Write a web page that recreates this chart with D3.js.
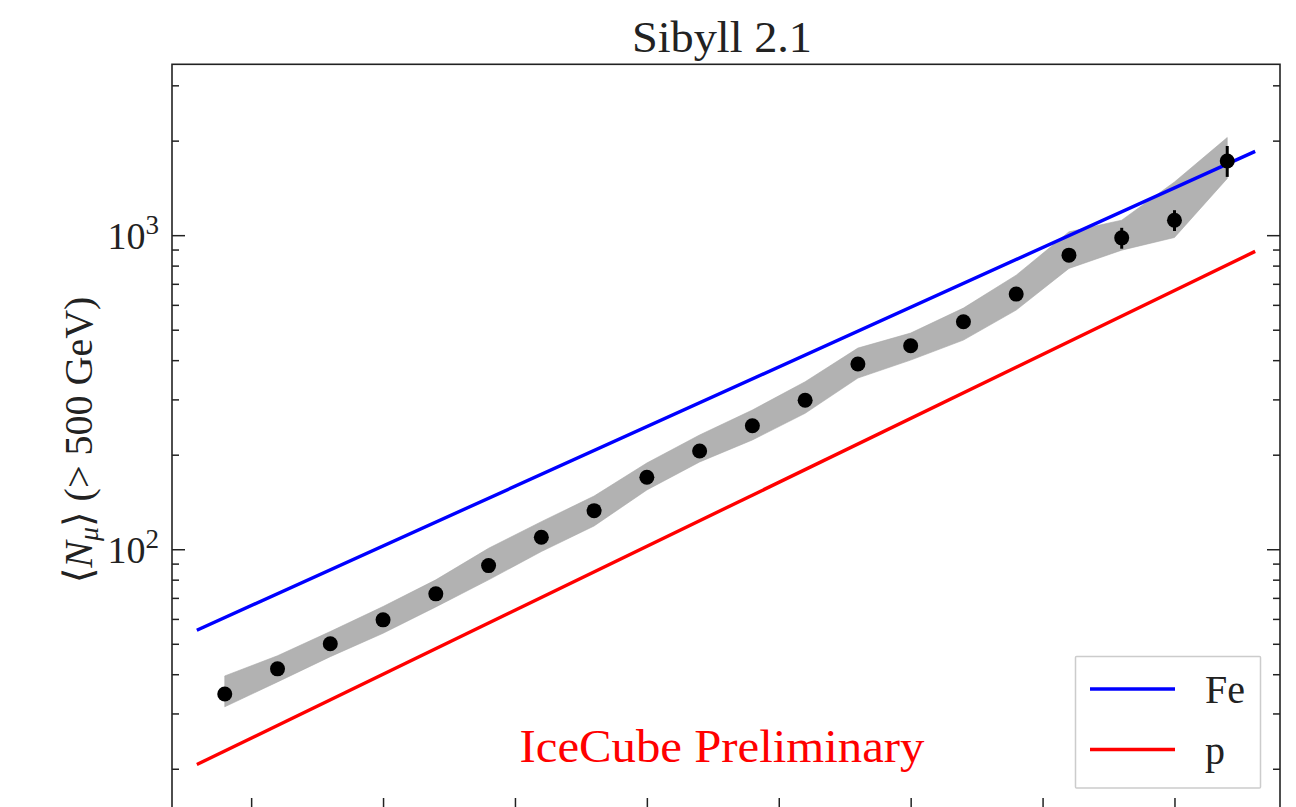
<!DOCTYPE html>
<html>
<head>
<meta charset="utf-8">
<script src="https://cdn.jsdelivr.net/npm/d3@7"></script>
<style>
  html, body { margin: 0; padding: 0; background: #fff; }
  svg { display: block; }
  text { font-family: "Liberation Serif", "DejaVu Serif", serif; fill: #222; }
</style>
</head>
<body>
<svg id="chart" width="1296" height="807"></svg>
<script>
// Mean muon multiplicity (> 500 GeV) per reconstructed-energy bin, Sibyll 2.1
const energyBins = [5.95, 6.05, 6.15, 6.25, 6.35, 6.45, 6.55, 6.65, 6.75, 6.85,
                    6.95, 7.05, 7.15, 7.25, 7.35, 7.45, 7.55, 7.65, 7.75, 7.85];
const muonMean = [34.6, 41.6, 50.0, 59.6, 72.1, 88.7, 109.2, 132.7, 169.5, 205.5,
                  247.4, 298.0, 388.7, 444.5, 529.8, 649.2, 863.6, 980.4, 1116, 1723];
const muonErrLow = [1.5, 1.5, 1.8, 2.0, 2.3, 2.7, 3.2, 3.8, 4.7, 5.6,
                    7, 9, 12, 15, 19, 25, 35, 75, 85, 190];
const muonErrHigh = [1.5, 1.5, 1.8, 2.0, 2.3, 2.7, 3.2, 3.8, 4.7, 5.6,
                     7, 9, 12, 15, 19, 25, 35, 75, 85, 200];
// systematic uncertainty band
const bandLow = [31.5, 37.8, 45.5, 54.0, 65.5, 79.9, 98.3, 118.6, 154.4, 189.6,
                 222.8, 270.9, 350.8, 400.2, 463.4, 577.4, 783.6, 896, 983, 1515];
const bandHigh = [39.5, 45.8, 54.7, 65.7, 79.9, 100.7, 122.4, 147.7, 188.2, 231.1,
                  277.5, 341.5, 437.0, 487.9, 585.9, 745.8, 1024.5, 1116, 1477, 2046];
// pure-composition expectations
const modelEnergy = [5.9, 7.9];
const ironMu = [55.5, 1839];
const protonMu = [20.75, 883];

const xTicks = [6.0, 6.25, 6.5, 6.75, 7.0, 7.25, 7.5, 7.75];
const yMajorTicks = [100, 1000];
const yMajorLabels = [["10", "2"], ["10", "3"]];
const titleText = "Sibyll 2.1";
const legendNames = ["Fe", "p"];
const watermark = "IceCube Preliminary";

const svg = d3.select("#chart");
const mLeft = 172, mRight = 1280, mTop = 64.3, mBottom = 808;

const x = d3.scaleLinear().domain([5.85, 7.95]).range([mLeft, mRight]);
const y = d3.scaleLog().domain([15, 3500]).range([mBottom, mTop]);

const plot = svg.append("g");

// uncertainty band
const band = d3.area()
  .x((d, i) => x(energyBins[i]))
  .y0((d, i) => y(bandLow[i]))
  .y1((d, i) => y(bandHigh[i]));
plot.append("path")
  .datum(energyBins)
  .attr("d", band)
  .attr("fill", "#b2b2b2")
  .attr("stroke", "#a8a8a8")
  .attr("stroke-width", 0.6);

// model lines
const line = d3.line().x(d => x(d[0])).y(d => y(d[1]));
const models = [
  { name: "Fe", vals: ironMu, color: "#0000ff" },
  { name: "p", vals: protonMu, color: "#ff0000" }
];
plot.selectAll("path.model")
  .data(models)
  .join("path")
  .attr("class", "model")
  .attr("d", m => line(modelEnergy.map((e, i) => [e, m.vals[i]])))
  .attr("fill", "none")
  .attr("stroke", m => m.color)
  .attr("stroke-width", 3.4)
  .attr("stroke-linecap", "square");

// error bars and markers
const pts = energyBins.map((e, i) => ({ e, v: muonMean[i], lo: muonMean[i] - muonErrLow[i], hi: muonMean[i] + muonErrHigh[i] }));
plot.selectAll("line.err")
  .data(pts)
  .join("line")
  .attr("class", "err")
  .attr("x1", d => x(d.e)).attr("x2", d => x(d.e))
  .attr("y1", d => y(d.lo)).attr("y2", d => y(d.hi))
  .attr("stroke", "#000").attr("stroke-width", 3);
plot.selectAll("circle.pt")
  .data(pts)
  .join("circle")
  .attr("class", "pt")
  .attr("cx", d => x(d.e)).attr("cy", d => y(d.v))
  .attr("r", 7.5)
  .attr("fill", "#000");

// axes: ticks point into the frame
const minorY = y.ticks().filter(v => !yMajorTicks.includes(v));
const axisColor = "#222";
function styleAxis(g) {
  g.select(".domain").remove();
  g.selectAll(".tick line").attr("stroke", axisColor).attr("stroke-width", 1.5);
  g.selectAll(".tick text").remove();
}
svg.append("g").attr("transform", `translate(${mLeft},0)`)
  .call(d3.axisLeft(y).tickValues(yMajorTicks).tickSize(-13)).call(styleAxis);
svg.append("g").attr("transform", `translate(${mLeft},0)`)
  .call(d3.axisLeft(y).tickValues(minorY).tickSize(-7)).call(styleAxis);
svg.append("g").attr("transform", `translate(${mRight},0)`)
  .call(d3.axisRight(y).tickValues(yMajorTicks).tickSize(-13)).call(styleAxis);
svg.append("g").attr("transform", `translate(${mRight},0)`)
  .call(d3.axisRight(y).tickValues(minorY).tickSize(-7)).call(styleAxis);
svg.append("g").attr("transform", `translate(0,${mBottom})`)
  .call(d3.axisBottom(x).tickValues(xTicks).tickSize(-10)).call(styleAxis);

// frame
svg.append("rect")
  .attr("x", mLeft).attr("y", mTop)
  .attr("width", mRight - mLeft).attr("height", mBottom - mTop)
  .attr("fill", "none").attr("stroke", axisColor).attr("stroke-width", 1.6);

// y tick labels 10^n
yMajorTicks.forEach((v, i) => {
  const t = svg.append("text")
    .attr("x", 159).attr("y", y(v) + 14)
    .attr("text-anchor", "end")
    .style("font-size", "38px");
  t.append("tspan").text(yMajorLabels[i][0]);
  t.append("tspan").attr("dy", -15).style("font-size", "27px").text(yMajorLabels[i][1]);
});

// title
svg.append("text")
  .attr("x", 722).attr("y", 52)
  .attr("text-anchor", "middle")
  .attr("textLength", 180)
  .attr("lengthAdjust", "spacingAndGlyphs")
  .style("font-size", "44px")
  .text(titleText);

// y axis label
const yl = svg.append("text")
  .attr("transform", `translate(92,440) rotate(-90)`)
  .attr("text-anchor", "middle")
  .style("font-size", "40px");
yl.append("tspan").text("\u27E8");
yl.append("tspan").style("font-style", "italic").text("N");
yl.append("tspan").attr("dy", 6).style("font-size", "28px").style("font-style", "italic").text("\u03BC");
yl.append("tspan").attr("dy", -6).text("\u27E9 (> 500 GeV)");

// watermark
svg.append("text")
  .attr("x", 722).attr("y", 762)
  .attr("text-anchor", "middle")
  .attr("textLength", 405)
  .attr("lengthAdjust", "spacingAndGlyphs")
  .style("font-size", "46px")
  .style("fill", "#ff0000")
  .text(watermark);

// legend
const lg = svg.append("g");
lg.append("rect")
  .attr("x", 1075.5).attr("y", 656.5).attr("width", 185).attr("height", 131.5)
  .attr("rx", 1)
  .attr("fill", "#fff").attr("stroke", "#cccccc").attr("stroke-width", 1.5);
models.forEach((m, i) => {
  const ly = 689 + i * 60.5;
  lg.append("line")
    .attr("x1", 1090).attr("x2", 1175).attr("y1", ly).attr("y2", ly)
    .attr("stroke", m.color).attr("stroke-width", 3.4);
  lg.append("text")
    .attr("x", 1205).attr("y", ly + 14)
    .style("font-size", "40px")
    .text(legendNames[i]);
});
</script>
</body>
</html>
